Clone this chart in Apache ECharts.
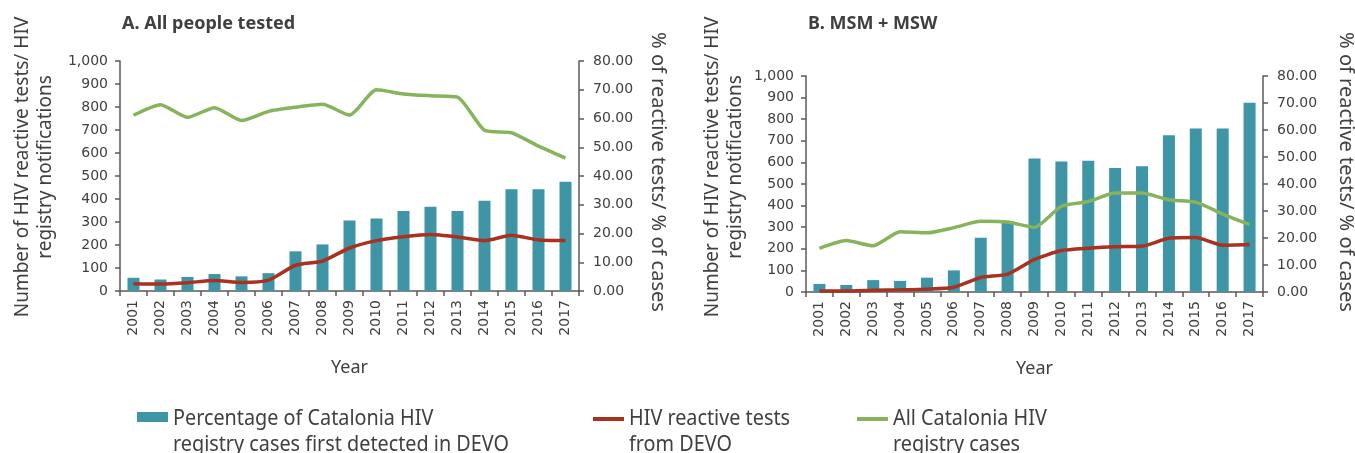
<!DOCTYPE html>
<html lang="en">
<head>
    <meta charset="UTF-8">
    <title>HIV reactive tests DEVO</title>
    <script src="https://cdn.jsdelivr.net/npm/echarts@6/dist/echarts.min.js"></script>
    <style>
        body { margin: 0; background: #fff; }
    </style>
</head>
<body>
    <div id="main" style="width: 1355px;height:453px;"></div>
    <script>
        var years = ['2001', '2002', '2003', '2004', '2005', '2006', '2007', '2008', '2009',
                     '2010', '2011', '2012', '2013', '2014', '2015', '2016', '2017'];

        // A. all people tested
        var pctA = [4.6, 4.0, 4.9, 5.9, 5.1, 6.2, 13.8, 16.2, 24.5, 25.2, 27.8, 29.3, 27.8, 31.4, 35.4, 35.4, 38.0];
        var devoA = [32, 30, 36, 46, 37, 47, 112, 130, 187, 219, 236, 246, 235, 219, 242, 222, 220];
        var registryA = [764, 810, 755, 797, 741, 781, 799, 812, 765, 875, 857, 849, 843, 699, 688, 630, 578];

        // B. MSM + MSW
        var pctB = [3.0, 2.6, 4.4, 4.1, 5.3, 8.0, 20.1, 26.3, 49.4, 48.3, 48.6, 45.9, 46.6, 58.1, 60.6, 60.6, 70.1];
        var devoB = [5, 5, 8, 10, 13, 22, 67, 83, 151, 192, 203, 210, 212, 249, 252, 217, 220];
        var registryB = [202, 238, 214, 279, 274, 298, 327, 324, 300, 397, 419, 458, 458, 427, 416, 361, 312];

        var leftTicks = [0, 1000, 100];
        var rightTicks = [0, 80, 10];

        var nameBar = 'Percentage of Catalonia HIV\nregistry cases first detected in DEVO';
        var nameRed = 'HIV reactive tests\nfrom DEVO';
        var nameGreen = 'All Catalonia HIV\nregistry cases';

        var cTeal = '#3d95a6';
        var cRed = '#a8311f';
        var cGreen = '#86b35c';
        var cText = '#404040';
        var cAxis = '#5a5a5a';
        var labelFont = 'DejaVu Sans';
        var titleFont = '"Noto Sans", sans-serif';

        var myChart = echarts.init(document.getElementById('main'));

        function xAxisFor(idx) {
            return {
                type: 'category',
                gridIndex: idx,
                data: years,
                name: 'Year',
                nameLocation: 'middle',
                nameGap: 68,
                nameTextStyle: { fontFamily: 'Noto Sans', fontSize: 18, color: cText },
                axisLine: { lineStyle: { color: cAxis, width: 1.5 } },
                axisTick: { show: true, length: 5, alignWithLabel: false, lineStyle: { color: cAxis, width: 1.5 } },
                axisLabel: { rotate: 90, margin: 9, fontFamily: labelFont, fontSize: 14, color: cText, interval: 0 }
            };
        }

        function leftAxisFor(idx) {
            return {
                type: 'value',
                gridIndex: idx,
                position: 'left',
                min: leftTicks[0], max: leftTicks[1], interval: leftTicks[2],
                splitLine: { show: false },
                axisLine: { show: true, lineStyle: { color: cAxis, width: 1.5 } },
                axisTick: { show: true, length: 5, lineStyle: { color: cAxis, width: 1.5 } },
                axisLabel: {
                    margin: 12, fontFamily: labelFont, fontSize: 14, color: cText,
                    formatter: function (v) { return v.toLocaleString('en-US'); }
                }
            };
        }

        function rightAxisFor(idx) {
            return {
                type: 'value',
                gridIndex: idx,
                position: 'right',
                min: rightTicks[0], max: rightTicks[1], interval: rightTicks[2],
                splitLine: { show: false },
                axisLine: { show: true, lineStyle: { color: cAxis, width: 1.5 } },
                axisTick: { show: true, length: 5, lineStyle: { color: cAxis, width: 1.5 } },
                axisLabel: {
                    margin: 14, fontFamily: labelFont, fontSize: 14, color: cText,
                    formatter: function (v) { return v.toFixed(2); }
                }
            };
        }

        function seriesFor(idx, pct, devo, registry) {
            return [
                {
                    name: nameBar, type: 'bar',
                    xAxisIndex: idx, yAxisIndex: idx * 2 + 1,
                    data: pct, barWidth: 12,
                    itemStyle: { color: cTeal }
                },
                {
                    name: nameRed, type: 'line',
                    xAxisIndex: idx, yAxisIndex: idx * 2,
                    data: devo, smooth: 0.2, showSymbol: false, symbol: 'none',
                    lineStyle: { color: cRed, width: 3.5 }, itemStyle: { color: cRed }
                },
                {
                    name: nameGreen, type: 'line',
                    xAxisIndex: idx, yAxisIndex: idx * 2,
                    data: registry, smooth: 0.2, showSymbol: false, symbol: 'none',
                    lineStyle: { color: cGreen, width: 3.5 }, itemStyle: { color: cGreen }
                }
            ];
        }

        // axis titles as rotated text
        function axisTitle(text, x, y, rot, size) {
            return {
                type: 'text', x: x, y: y, rotation: rot,
                style: {
                    text: text, fontFamily: 'Noto Sans', fontSize: size, lineHeight: 23,
                    fill: cText, align: 'center', verticalAlign: 'middle'
                }
            };
        }

        // legend entries: swatch + condensed two-line label
        function legendItem(name, color, x, iconY, iconH) {
            return {
                type: 'group',
                children: [
                    { type: 'rect', shape: { x: x, y: iconY - iconH / 2, width: 31, height: iconH },
                      style: { fill: color } },
                    { type: 'text', x: x + 36, y: 432, scaleX: 0.9,
                      style: { text: name, fontFamily: titleFont, fontSize: 22, lineHeight: 26,
                               fill: cText, align: 'left', verticalAlign: 'middle' } }
                ]
            };
        }

        var option = {
            animation: false,
            title: [
                { text: 'A. All people tested', left: 117, top: 10,
                  textStyle: { fontFamily: titleFont, fontWeight: 'bold', fontSize: 18, color: cText } },
                { text: 'B. MSM + MSW', left: 803, top: 10,
                  textStyle: { fontFamily: titleFont, fontWeight: 'bold', fontSize: 18, color: cText } }
            ],
            grid: [
                { left: 120, right: 776, top: 61, bottom: 162 },
                { left: 806, right: 92, top: 76, bottom: 161 }
            ],
            xAxis: [xAxisFor(0), xAxisFor(1)],
            yAxis: [leftAxisFor(0), rightAxisFor(0), leftAxisFor(1), rightAxisFor(1)],
            graphic: [
                axisTitle('Number of HIV reactive tests/ HIV\nregistry notifications', 34, 167, Math.PI / 2, 19),
                axisTitle('% of reactive tests/ % of cases', 658, 172, -Math.PI / 2, 20),
                axisTitle('Number of HIV reactive tests/ HIV\nregistry notifications', 724, 167, Math.PI / 2, 19),
                axisTitle('% of reactive tests/ % of cases', 1346, 172, -Math.PI / 2, 20),
                legendItem(nameBar, cTeal, 137, 417, 10),
                legendItem(nameRed, cRed, 593, 419, 4),
                legendItem(nameGreen, cGreen, 857, 419, 4)
            ],
            series: seriesFor(0, pctA, devoA, registryA).concat(seriesFor(1, pctB, devoB, registryB))
        };
        myChart.setOption(option);
    </script>
</body>
</html>
